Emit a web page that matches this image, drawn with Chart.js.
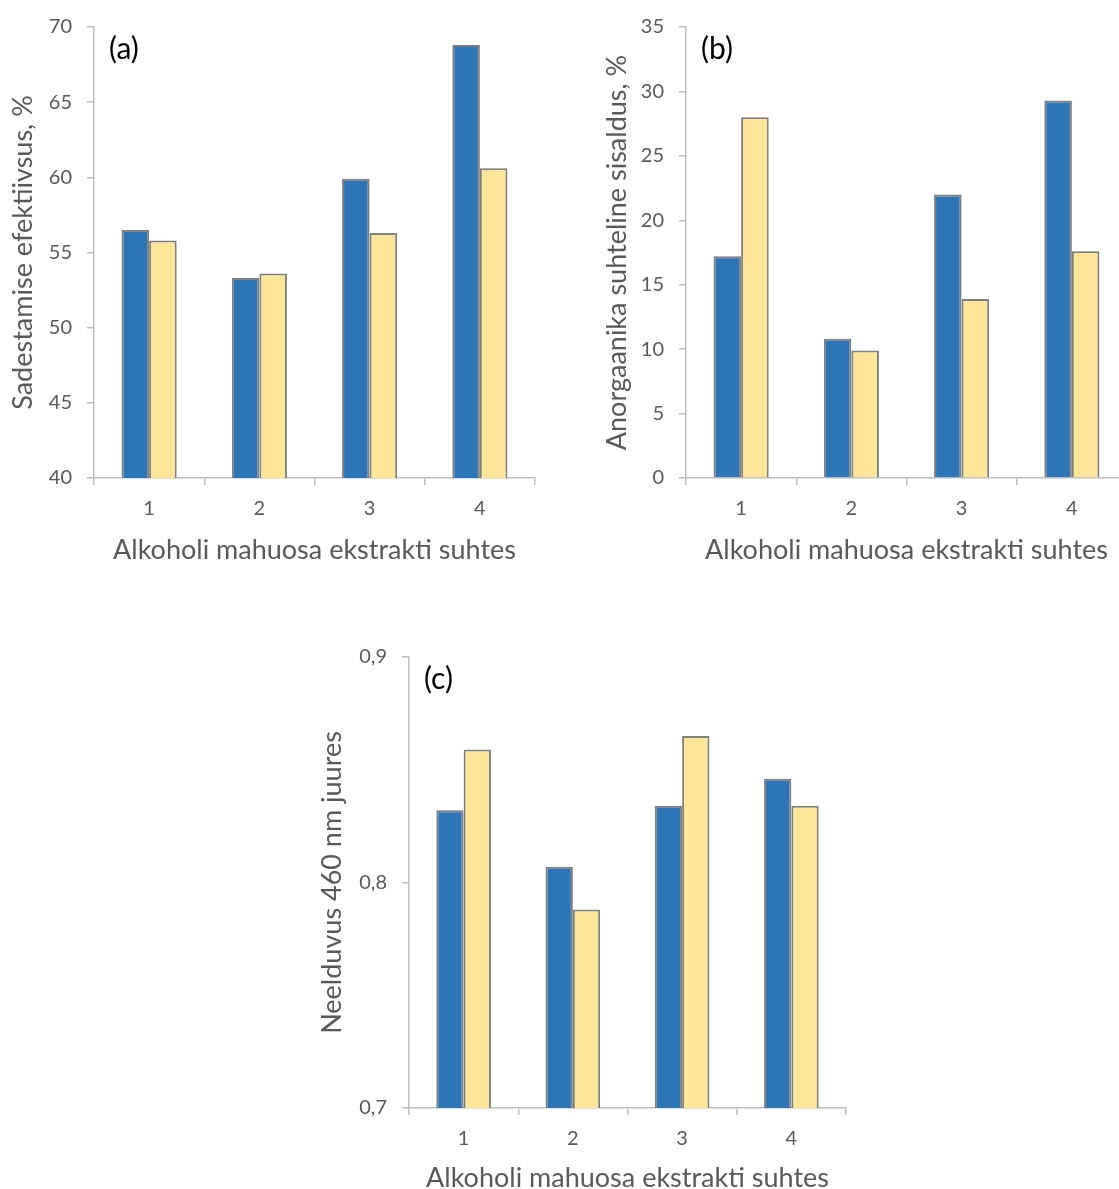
<!DOCTYPE html>
<html>
<head>
<meta charset="utf-8">
<script src="https://cdn.jsdelivr.net/npm/chart.js@4.4.0/dist/chart.umd.min.js"></script>
<style>
  html, body { margin: 0; padding: 0; background: #fff; width: 1119px; height: 1189px; overflow: hidden; }
  canvas { position: absolute; }
  #chartA { left: 0; top: 0; }
  #chartB { left: 560px; top: 0; }
  #chartC { left: 300px; top: 630px; }
</style>
</head>
<body>
<canvas id="chartA" width="560" height="590"></canvas>
<canvas id="chartB" width="590" height="590"></canvas>
<canvas id="chartC" width="570" height="570"></canvas>

<script>
// categories (alcohol volume fraction vs extract)
var categories = ['1', '2', '3', '4'];

// (a) sadestamise efektiivsus, %
var effBlue   = [56.5, 53.3, 59.9, 68.8];
var effYellow = [55.8, 53.6, 56.3, 60.6];
var effRange  = [40, 70, 5];

// (b) anorgaanika suhteline sisaldus, %
var inorgBlue   = [17.2, 10.8, 22.0, 29.3];
var inorgYellow = [28.0, 9.9, 13.9, 17.6];
var inorgRange  = [0, 35, 5];

// (c) neelduvus 460 nm juures
var absBlue   = [0.832, 0.807, 0.834, 0.846];
var absYellow = [0.859, 0.788, 0.865, 0.834];
var absRange  = [0.7, 0.9, 0.1];

var xTitle = 'Alkoholi mahuosa ekstrakti suhtes';

var FONT = 'Lato';
var textColor = '#595959';
var axisColor = '#BFBFBF';
var blue = '#2E75B6';
var yellow = '#FFE699';
var barBorder = '#7F7F7F';

// draws the (a)/(b)/(c) tag inside the plot
var panelLabel = {
  id: 'panelLabel',
  afterDraw: function(chart, args, opts) {
    var ctx = chart.ctx;
    ctx.save();
    ctx.font = '30px ' + FONT;
    ctx.fillStyle = '#000';
    ctx.textBaseline = 'middle';
    ctx.fillText(opts.text, chart.chartArea.left + 15, chart.chartArea.top + 22);
    ctx.restore();
  }
};

function drawPanel(id, cfg) {
  var ctx = document.getElementById(id).getContext('2d');

  var chart = new Chart(ctx, {
    type: 'bar',
    data: {
      labels: categories,
      datasets: [{
        label: 'Seeria 1',
        data: cfg.blue,
        backgroundColor: blue,
        borderColor: barBorder,
        borderWidth: 2,
        categoryPercentage: 0.5,
        barPercentage: 1.0
      }, {
        label: 'Seeria 2',
        data: cfg.yellow,
        backgroundColor: yellow,
        borderColor: barBorder,
        borderWidth: 2,
        categoryPercentage: 0.5,
        barPercentage: 1.0
      }]
    },
    options: {
      responsive: false,
      animation: false,
      layout: { padding: { top: 24, right: cfg.padRight, left: 0, bottom: 0 } },
      plugins: {
        legend: { display: false },
        tooltip: { enabled: false },
        panelLabel: { text: cfg.tag }
      },
      scales: {
        x: {
          offset: true,
          grid: { offset: true, drawOnChartArea: false, tickLength: 7, color: axisColor, lineWidth: 1.5 },
          border: { color: axisColor, width: 1.5 },
          ticks: { color: textColor, font: { family: FONT, size: 20 }, padding: 12 },
          title: {
            display: true,
            text: xTitle,
            color: textColor,
            font: { family: FONT, size: 27 },
            padding: { top: 0, bottom: cfg.xTitlePad }
          },
          afterFit: function(s) { s.height = cfg.xHeight; }
        },
        y: {
          min: cfg.range[0],
          max: cfg.range[1],
          grid: { drawOnChartArea: false, tickLength: 7, color: axisColor, lineWidth: 1.5 },
          border: { color: axisColor, width: 1.5 },
          ticks: {
            stepSize: cfg.range[2],
            color: textColor,
            font: { family: FONT, size: 20 },
            padding: 15,
            callback: cfg.fmt
          },
          title: {
            display: true,
            text: cfg.yTitle,
            color: textColor,
            font: { family: FONT, size: 27 },
            padding: { top: cfg.yTitlePad, bottom: 0 }
          },
          afterFit: function(s) { s.width = cfg.yWidth; }
        }
      }
    },
    plugins: [panelLabel]
  });
  return chart;
}

function plainFmt(v) { return String(v); }
function commaFmt(v) { return Number(v).toFixed(1).replace('.', ','); }

drawPanel('chartA', {
  tag: '(a)', blue: effBlue, yellow: effYellow, range: effRange, fmt: plainFmt,
  yTitle: 'Sadestamise efektiivsus, %',
  yWidth: 94, yTitlePad: 6.8, padRight: 25, xHeight: 112, xTitlePad: 23.8
});

drawPanel('chartB', {
  tag: '(b)', blue: inorgBlue, yellow: inorgYellow, range: inorgRange, fmt: plainFmt,
  yTitle: 'Anorgaanika suhteline sisaldus, %',
  yWidth: 126, yTitlePad: 40.8, padRight: 23, xHeight: 112, xTitlePad: 23.8
});

drawPanel('chartC', {
  tag: '(c)', blue: absBlue, yellow: absYellow, range: absRange, fmt: commaFmt,
  yTitle: 'Neelduvus 460 nm juures',
  yWidth: 109, yTitlePad: 15.8, padRight: 24, xHeight: 92, xTitlePad: 5.8
});
</script>
</body>
</html>
